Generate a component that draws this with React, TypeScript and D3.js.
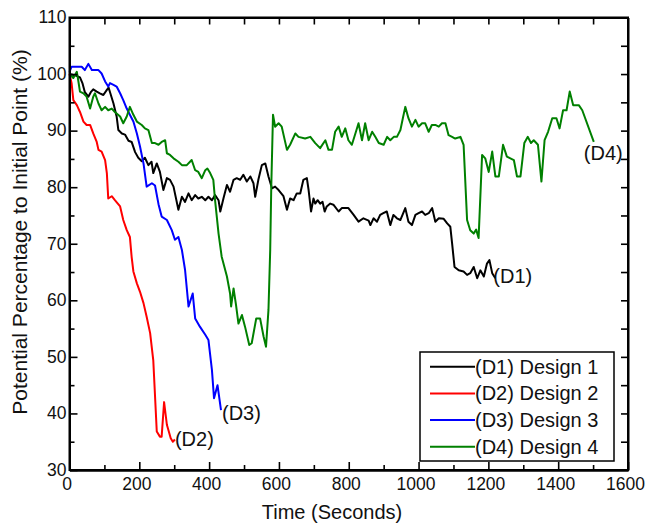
import React, { useRef, useEffect } from "react";
import { select, scaleLinear, line, axisBottom, axisLeft, axisTop, axisRight, range } from "d3";

// D1 - Design 1
const d1Time = [0, 15, 30, 37, 44, 54, 61, 68, 78, 87, 97, 107, 112, 117, 126, 135, 140, 150, 159, 169, 178, 188, 197, 207, 216, 226, 235, 240, 250, 259, 269, 279, 288, 298, 312, 322, 331, 341, 350, 360, 369, 379, 389, 398, 408, 417, 427, 432, 441, 451, 460, 470, 479, 489, 498, 508, 518, 527, 532, 541, 551, 561, 570, 580, 589, 599, 613, 623, 632, 642, 651, 661, 670, 680, 685, 692, 699, 704, 711, 718, 725, 731, 737, 747, 756, 771, 780, 799, 814, 828, 842, 857, 862, 871, 881, 890, 899, 909, 919, 928, 938, 948, 954, 962, 971, 981, 991, 1000, 1010, 1019, 1029, 1039, 1048, 1058, 1072, 1082, 1091, 1096, 1103, 1115, 1129, 1139, 1148, 1158, 1168, 1177, 1187, 1196, 1203, 1211, 1220];
const d1Value = [100, 99.8, 99.4, 98.4, 96.8, 96.0, 96.8, 97.3, 96.9, 96.6, 96.3, 97.2, 97.6, 96.6, 94.8, 92.5, 90.1, 89.5, 89.3, 88.2, 88.0, 86.2, 85.2, 84.6, 85.2, 83.9, 84.5, 82.5, 84.2, 82.7, 79.5, 81.6, 81.3, 80.1, 76.0, 78.3, 77.4, 78.9, 77.7, 78.6, 78.0, 78.3, 77.7, 78.3, 77.7, 78.6, 77.7, 75.7, 78.0, 80.4, 79.2, 81.3, 81.6, 81.3, 82.2, 81.0, 81.9, 80.7, 78.3, 81.3, 83.9, 84.2, 81.9, 79.8, 80.1, 79.5, 78.4, 76.0, 78.0, 77.7, 78.9, 78.9, 81.3, 81.6, 79.5, 75.7, 78.0, 77.1, 77.7, 77.1, 77.4, 75.7, 76.6, 77.1, 76.9, 75.7, 76.3, 76.3, 75.1, 73.9, 74.5, 74.1, 73.3, 74.5, 73.9, 75.1, 75.4, 75.7, 73.3, 75.1, 74.5, 74.2, 75.1, 76.3, 73.9, 73.3, 75.1, 75.4, 75.7, 75.1, 75.4, 76.3, 73.9, 74.5, 74.4, 73.6, 73.0, 70.1, 65.9, 65.3, 65.1, 64.5, 64.8, 65.9, 63.9, 65.3, 64.2, 66.5, 67.1, 64.8, 63.9];

// D2 - Design 2
const d2Time = [0, 6, 11, 21, 30, 40, 49, 59, 68, 78, 83, 92, 102, 107, 111, 121, 130, 145, 154, 164, 173, 178, 183, 193, 202, 212, 221, 231, 240, 250, 259, 264, 271, 279, 290, 296, 302];
const d2Value = [100, 98.4, 95.4, 94.5, 93.3, 91.6, 91.0, 91.0, 89.5, 88.0, 86.6, 86.3, 84.8, 82.5, 78.0, 78.4, 77.7, 76.6, 74.2, 72.4, 71.2, 67.7, 65.1, 63.0, 61.5, 59.5, 57.1, 54.2, 49.4, 36.8, 35.9, 35.9, 42.0, 38.0, 35.6, 35.0, 35.4];

// D3 - Design 3
const d3Time = [0, 6, 35, 44, 54, 64, 83, 92, 102, 111, 116, 126, 135, 145, 154, 164, 173, 183, 193, 202, 212, 221, 236, 245, 255, 264, 279, 293, 302, 312, 322, 331, 341, 353, 360, 374, 389, 398, 408, 414, 424, 434];
const d3Value = [100.4, 101.3, 101.3, 100.7, 101.8, 100.7, 100.7, 100.1, 98.7, 97.8, 98.4, 98.1, 97.8, 96.6, 95.4, 93.9, 92.8, 91.6, 89.5, 87.2, 84.2, 80.1, 80.7, 80.3, 77.0, 74.8, 74.2, 72.4, 70.7, 71.2, 68.9, 65.4, 58.9, 61.2, 56.8, 55.3, 53.9, 53.0, 47.7, 42.7, 45.0, 40.6];

// D4 - Design 4
const d4Time = [0, 11, 21, 25, 30, 40, 49, 59, 68, 73, 83, 92, 102, 111, 121, 130, 145, 154, 164, 173, 183, 193, 207, 216, 226, 236, 245, 255, 264, 274, 279, 288, 298, 312, 322, 336, 350, 360, 369, 379, 389, 395, 403, 412, 417, 427, 436, 451, 460, 463, 470, 477, 484, 494, 503, 515, 522, 535, 546, 556, 563, 570, 575, 578, 583, 589, 599, 608, 623, 632, 647, 656, 675, 690, 704, 718, 733, 742, 752, 761, 771, 780, 790, 799, 809, 819, 828, 838, 847, 857, 867, 876, 886, 900, 910, 919, 929, 938, 948, 955, 962, 971, 981, 991, 1000, 1010, 1019, 1029, 1038, 1048, 1058, 1067, 1077, 1086, 1096, 1105, 1120, 1129, 1139, 1148, 1158, 1165, 1172, 1182, 1191, 1201, 1211, 1220, 1230, 1242, 1253, 1263, 1273, 1282, 1292, 1303, 1313, 1322, 1330, 1342, 1352, 1361, 1371, 1383, 1395, 1404, 1414, 1424, 1433, 1443, 1459, 1469, 1502];
const d4Value = [100, 99.3, 100.4, 98.9, 96.9, 96.6, 96.0, 93.9, 96.0, 96.6, 94.8, 93.6, 94.2, 93.6, 93.9, 93.3, 92.5, 91.3, 92.5, 94.2, 92.8, 91.6, 91.0, 90.4, 90.1, 87.8, 87.8, 87.5, 88.0, 88.3, 86.0, 85.7, 85.1, 84.5, 83.9, 83.9, 84.8, 83.0, 82.7, 81.6, 83.0, 83.3, 82.5, 81.3, 77.7, 71.8, 67.7, 64.2, 61.2, 58.9, 62.1, 59.2, 55.9, 57.4, 55.3, 52.1, 52.4, 56.8, 56.8, 53.6, 51.8, 58.3, 68.9, 80.0, 92.8, 90.7, 91.3, 90.7, 86.6, 87.5, 89.5, 88.9, 88.6, 88.9, 87.8, 86.9, 88.3, 86.6, 86.6, 89.8, 90.7, 88.9, 90.4, 88.3, 87.5, 89.5, 91.3, 88.3, 91.3, 88.3, 89.8, 88.9, 87.8, 87.5, 88.9, 88.3, 88.9, 88.9, 90.1, 92.2, 94.2, 92.2, 90.7, 91.9, 90.7, 91.3, 91.3, 89.8, 91.0, 91.0, 90.7, 91.3, 91.3, 89.2, 88.9, 88.6, 88.9, 87.5, 74.2, 72.4, 71.8, 72.5, 71.0, 85.7, 85.1, 82.7, 86.3, 81.9, 81.9, 87.5, 85.4, 85.1, 84.8, 81.9, 81.9, 87.8, 88.9, 87.8, 88.3, 87.5, 81.0, 88.3, 89.8, 92.2, 92.2, 90.4, 93.6, 93.6, 96.9, 94.5, 94.5, 93.6, 88.0];

const seriesNames = ["(D1) Design 1", "(D2) Design 2", "(D3) Design 3", "(D4) Design 4"];
const endLabels = ["(D1)", "(D2)", "(D3)", "(D4)"];
const xTicks = [0, 200, 400, 600, 800, 1000, 1200, 1400, 1600];
const yTicks = [30, 40, 50, 60, 70, 80, 90, 100, 110];

const colors = ["#000000", "#ff0000", "#0000ff", "#008000"];
// where each end label sits relative to the last point (px)
const labelOffset = [[-2, 5], [0, 7], [1, 10], [-10, 18]];

const width = 646, height = 524;
const left = 69.5, right = 628, top = 17.5, bottom = 470;
const font = "'Liberation Sans', Arial, sans-serif";

export default function App() {
  const gRef = useRef<SVGGElement>(null);

  const x = scaleLinear().domain([0, 1600]).range([left, right]);
  const y = scaleLinear().domain([30, 110]).range([bottom, top]);

  const series = [
    d1Time.map((t, i) => [t, d1Value[i]]),
    d2Time.map((t, i) => [t, d2Value[i]]),
    d3Time.map((t, i) => [t, d3Value[i]]),
    d4Time.map((t, i) => [t, d4Value[i]]),
  ];

  const path = line<number[]>().x(d => x(d[0])).y(d => y(d[1]));

  useEffect(() => {
    const g = select(gRef.current);
    g.selectAll("*").remove();

    const minorX = range(100, 1600, 200);
    const minorY = range(35, 110, 10);

    g.append("g").attr("transform", `translate(0,${bottom})`)
      .call(axisBottom(x).tickValues(xTicks).tickSize(-8).tickSizeOuter(0).tickPadding(8).tickFormat(d => String(d)))
      .call(a => a.selectAll("text").attr("dx", -3));
    g.append("g").attr("transform", `translate(0,${bottom})`)
      .call(axisBottom(x).tickValues(minorX).tickSize(-5).tickSizeOuter(0).tickFormat(() => ""));
    g.append("g").attr("transform", `translate(${left},0)`)
      .call(axisLeft(y).tickValues(yTicks).tickSize(-8).tickSizeOuter(0).tickPadding(3).tickFormat(d => String(d)))
      .call(a => a.selectAll("text").attr("dy", "0.3em"));
    g.append("g").attr("transform", `translate(${left},0)`)
      .call(axisLeft(y).tickValues(minorY).tickSize(-5).tickSizeOuter(0).tickFormat(() => ""));
    g.append("g").attr("transform", `translate(0,${top})`)
      .call(axisTop(x).tickValues(range(100, 1600, 100)).tickSize(-7).tickSizeOuter(0).tickFormat(() => ""));
    g.append("g").attr("transform", `translate(${right},0)`)
      .call(axisRight(y).tickValues(range(35, 110, 5)).tickSize(-7).tickSizeOuter(0).tickFormat(() => ""));

    g.selectAll("path.domain").attr("stroke-width", 2);
    g.selectAll(".tick line").attr("stroke-width", 1.6);
    g.selectAll("text")
      .attr("font-family", font)
      .attr("font-size", 17.5)
      .attr("fill", "#111");
  }, []);

  return (
    <svg width={width} height={height} style={{ position: "absolute", left: 0, top: 0, background: "#fff" }}>
      {series.map((s, i) => (
        <path key={i} d={path(s) || ""} fill="none" stroke={colors[i]} strokeWidth={2} strokeLinejoin="round" />
      ))}
      {series.map((s, i) => {
        const last = s[s.length - 1];
        return (
          <text key={i} x={x(last[0]) + labelOffset[i][0]} y={y(last[1]) + labelOffset[i][1]}
            fontFamily={font} fontSize={20} fill="#111">{endLabels[i]}</text>
        );
      })}
      <g ref={gRef} />
      <rect x={left} y={top} width={right - left} height={bottom - top} fill="none" stroke="#000" strokeWidth={2} />

      <g>
        <rect x={420} y={352} width={194} height={109} fill="#fff" stroke="#000" strokeWidth={1.5} />
        {seriesNames.map((n, i) => (
          <g key={n} transform={`translate(0,${366.7 + i * 26.7})`}>
            <line x1={430} x2={475} y1={0} y2={0} stroke={colors[i]} strokeWidth={2} />
            <text x={475} y={7} fontFamily={font} fontSize={20} fill="#111">{n}</text>
          </g>
        ))}
      </g>

      <text x={332} y={519} textAnchor="middle" fontFamily={font} fontSize={20} fill="#111">Time (Seconds)</text>
      <text transform="translate(27,232) rotate(-90)" textAnchor="middle" fontFamily={font} fontSize={21} fill="#111">
        Potential Percentage to Initial Point (%)
      </text>
    </svg>
  );
}
